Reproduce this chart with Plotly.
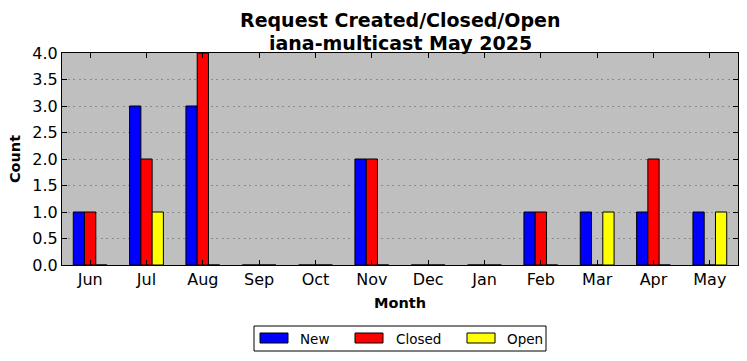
import plotly.graph_objects as go

months = ["Jun", "Jul", "Aug", "Sep", "Oct", "Nov", "Dec", "Jan", "Feb", "Mar", "Apr", "May"]
new_vals = [1, 3, 3, 0, 0, 2, 0, 0, 1, 1, 1, 1]
closed_vals = [1, 2, 4, 0, 0, 2, 0, 0, 1, 0, 2, 0]
open_vals = [0, 1, 0, 0, 0, 0, 0, 0, 0, 1, 0, 1]
series_names = ["New", "Closed", "Open"]
series_colors = ["#0000ff", "#ff0000", "#ffff00"]
title_lines = ["Request Created/Closed/Open", "iana-multicast May 2025"]

font = "DejaVu Sans"
W, H = 747, 361
L, R, T, B = 62, 9, 53, 96
pw, ph = W - L - R, H - T - B

def px(x):
    return (x - L) / pw

def py(y):
    return (H - B - y) / ph

fig = go.Figure()
for name, vals, color in zip(series_names, [new_vals, closed_vals, open_vals], series_colors):
    fig.add_trace(go.Bar(x=months, y=vals, name=name, showlegend=False,
                         marker=dict(color=color, line=dict(color="black", width=1))))

# manual legend (matplotlib-style)
shapes = [dict(type="rect", xref="paper", yref="paper", x0=px(254), x1=px(546), y0=py(326), y1=py(351),
               line=dict(color="black", width=1), fillcolor="white", layer="above")]
annotations = []
swatch_x = [260, 355, 467]
text_x = [298, 394, 505]
for name, color, sx, tx in zip(series_names, series_colors, swatch_x, text_x):
    shapes.append(dict(type="rect", xref="paper", yref="paper", x0=px(sx), x1=px(sx + 28),
                       y0=py(333), y1=py(343), line=dict(color="black", width=1), fillcolor=color,
                       layer="above"))
    annotations.append(dict(text=name, xref="paper", yref="paper", x=px(tx), y=py(338.5),
                            xanchor="left", yanchor="middle", showarrow=False,
                            font=dict(size=13.5, family=font, color="black")))

for line, yc in zip(title_lines, [20, 43]):
    annotations.append(dict(text="<b>%s</b>" % line, xref="paper", yref="paper", x=0.5, y=py(yc),
                            xanchor="center", yanchor="middle", showarrow=False,
                            font=dict(size=19, family=font, color="black")))

fig.update_layout(
    width=W, height=H,
    margin=dict(l=L, r=R, t=T, b=B),
    paper_bgcolor="white", plot_bgcolor="#bfbfbf",
    barmode="group", bargap=0.4, bargroupgap=0,
    font=dict(family=font, color="black"),
    shapes=shapes, annotations=annotations,
    showlegend=False,
)
fig.update_xaxes(
    range=[-0.5, 11.5], showline=True, linecolor="black", linewidth=1, mirror="ticks",
    ticks="inside", ticklen=5, tickcolor="black", tickfont=dict(size=16),
    title=dict(text="<b>Month</b>", font=dict(size=14.5), standoff=9),
    showgrid=False,
)
fig.update_yaxes(
    range=[0, 4], dtick=0.5, tickformat=".1f", showline=True, linecolor="black", linewidth=1,
    mirror="ticks", ticks="inside", ticklen=5, tickcolor="black", tickfont=dict(size=16),
    title=dict(text="<b>Count</b>", font=dict(size=14.5), standoff=8),
    showgrid=True, gridcolor="#8a8a8a", griddash="2px,3.5px", gridwidth=1, zeroline=False,
)
fig.write_html("out.html")
